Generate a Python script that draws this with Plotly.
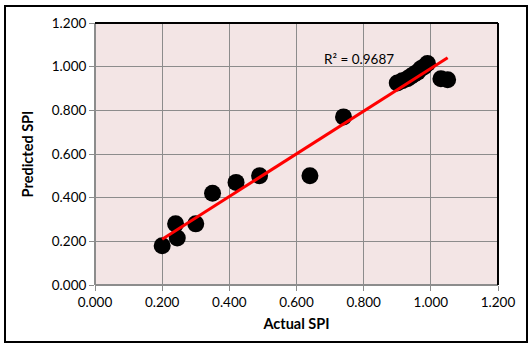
import numpy as np
import plotly.graph_objects as go

# Actual vs. predicted SPI
actual_spi = [0.20, 0.24, 0.245, 0.30, 0.35, 0.42, 0.49, 0.64, 0.74,
              0.90, 0.915, 0.93, 0.94, 0.95, 0.96, 0.97, 0.98, 0.99,
              1.03, 1.05]
predicted_spi = [0.18, 0.28, 0.215, 0.28, 0.42, 0.47, 0.50, 0.50, 0.77,
                 0.925, 0.935, 0.945, 0.955, 0.965, 0.975, 0.99, 1.00, 1.015,
                 0.945, 0.94]
tick_vals = [0.0, 0.2, 0.4, 0.6, 0.8, 1.0, 1.2]
tick_text = ["0.000", "0.200", "0.400", "0.600", "0.800", "1.000", "1.200"]
r2_label = "R² = 0.9687"

W, H = 529, 347
ML, MR, MT, MB = 95, 31, 23, 62
FONT = "Lato, Carlito, Calibri, sans-serif"

# linear trend line fitted to the points
slope, intercept = np.polyfit(actual_spi, predicted_spi, 1)
xs = np.array([min(actual_spi), max(actual_spi)])
ys = slope * xs + intercept

fig = go.Figure()
fig.add_trace(go.Scatter(
    x=actual_spi, y=predicted_spi, mode="markers",
    marker=dict(size=17, color="black", line=dict(width=0)),
    showlegend=False, hoverinfo="skip"))
fig.add_trace(go.Scatter(
    x=xs, y=ys, mode="lines",
    line=dict(color="#FF0000", width=3),
    showlegend=False, hoverinfo="skip"))

axis_common = dict(
    range=[0, 1.2], tickvals=tick_vals, ticktext=tick_text,
    showgrid=True, gridcolor="#8C8C8C", gridwidth=1,
    zeroline=False, showline=False,
    ticks="outside", ticklen=5, tickcolor="#8C8C8C", tickwidth=1,
    tickfont=dict(family=FONT, size=13.5, color="black"),
    fixedrange=True,
)
fig.update_xaxes(**axis_common,
                 title=dict(text="<b>Actual SPI</b>", standoff=9,
                            font=dict(family=FONT, size=14.5, color="black")))
fig.update_yaxes(**axis_common,
                 title=dict(text="<b>Predicted SPI</b>", standoff=14,
                            font=dict(family=FONT, size=14.5, color="black")))

pw = W - ML - MR
ph = H - MT - MB


def px_to_paper_x(px):
    return (px - ML) / pw


def px_to_paper_y(py):
    return (H - MB - py) / ph


shapes = [
    # plot-area border: grey on left/bottom, dark on top/right
    dict(type="line", xref="paper", yref="paper", x0=0, y0=0, x1=0, y1=1,
         line=dict(color="#8C8C8C", width=2)),
    dict(type="line", xref="paper", yref="paper", x0=0, y0=0, x1=1, y1=0,
         line=dict(color="#8C8C8C", width=2)),
    dict(type="line", xref="paper", yref="paper", x0=0, y0=1, x1=1, y1=1,
         line=dict(color="black", width=2)),
    dict(type="line", xref="paper", yref="paper", x0=1, y0=0, x1=1, y1=1,
         line=dict(color="black", width=2)),
    # outer chart frame
    dict(type="rect", xref="paper", yref="paper",
         x0=px_to_paper_x(5), x1=px_to_paper_x(527),
         y0=px_to_paper_y(342), y1=px_to_paper_y(6),
         line=dict(color="black", width=2), layer="above"),
]

fig.update_layout(
    width=W, height=H,
    margin=dict(l=ML, r=MR, t=MT, b=MB),
    paper_bgcolor="white", plot_bgcolor="#F3E5E5",
    shapes=shapes,
    annotations=[dict(
        text=r2_label, x=0.677, y=1.035, xref="x", yref="y",
        xanchor="left", yanchor="middle", showarrow=False,
        font=dict(family=FONT, size=13.5, color="black"))],
)

fig.write_html("out.html", config=dict(displayModeBar=False))
